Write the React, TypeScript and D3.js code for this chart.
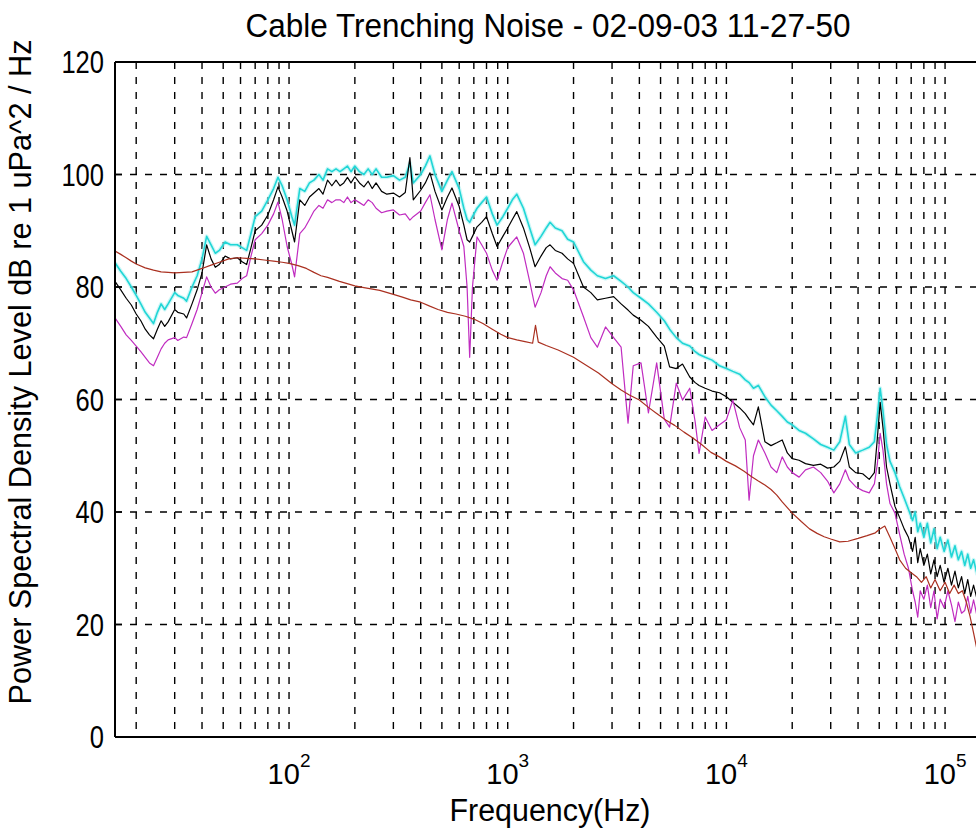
import React from 'react';
import * as d3 from 'd3';

// Shared frequency grid (Hz) for the cyan / black / magenta spectra
const freqs = [
  16, 17, 18, 19, 20, 21, 22, 23, 24, 25, 26, 27, 28, 30, 31, 33, 34, 36, 38, 40,
  42, 44, 46, 48, 51, 54, 58, 61, 64, 67, 70, 75, 80, 85, 89, 93, 98, 103, 106, 112,
  118, 124, 130, 137, 143, 150, 157, 164, 171, 178, 185, 192, 200, 210, 220, 230, 240, 250, 265, 280,
  300, 320, 340, 357, 370, 400, 420, 441, 465, 500, 530, 556, 600, 630, 652, 670, 690, 724, 760, 800,
  850, 894, 950, 1000, 1050, 1100, 1180, 1260, 1334, 1420, 1500, 1562, 1650, 1772, 1880, 2000, 2220, 2400, 2570, 2800,
  3050, 3300, 3550, 3750, 4070, 4400, 4800, 5200, 5500, 5900, 6300, 6800, 7200, 7500, 8000, 8600, 9300, 10000, 10700, 11500,
  12200, 12700, 13300, 14000, 15000, 16000, 17000, 18000, 19000, 20000, 21500, 23000, 25000, 27000, 29000, 31000, 33000, 35000, 36500, 39000,
  42000, 45000, 47500, 49000, 50500, 52000, 54000, 56000, 59000, 62000, 65000, 68000, 71000, 73000, 75000, 77000, 80000, 83000, 86000, 89000,
  92000, 95000, 99000, 103000, 107000, 111000, 115000, 119000, 123000, 127000, 131000, 135000, 140000, 146000,
];

const cyanDb = [
  84.3, 82.8, 81.5, 80.0, 78.5, 77.0, 75.5, 74.5, 73.5, 75.5, 77.0, 76.0, 77.0, 79.0, 78.5, 78.0, 77.5, 80.0, 82.0, 85.0,
  89.0, 87.5, 86.0, 86.5, 88.0, 87.5, 87.5, 87.0, 86.5, 89.5, 92.5, 93.5, 95.5, 97.5, 99.5, 98.0, 95.5, 92.5, 91.0, 97.5,
  97.0, 98.5, 99.0, 100.0, 99.0, 101.0, 100.5, 101.0, 100.5, 101.0, 101.5, 100.5, 101.5, 100.5, 100.0, 101.0, 100.0, 101.0, 99.5, 99.5,
  99.8, 99.0, 99.5, 102.0, 98.5, 100.0, 101.5, 103.3, 100.0, 97.0, 99.0, 100.5, 97.5, 94.0, 92.0, 91.5, 92.5, 94.0, 95.0, 96.0,
  93.0, 91.0, 92.5, 94.0, 95.5, 96.5, 94.0, 90.5, 87.5, 89.0, 90.5, 91.5, 90.5, 90.0, 88.5, 88.0, 84.5, 83.0, 82.0, 81.5,
  82.0, 81.0, 80.0, 79.0, 78.0, 77.0, 75.5, 74.0, 72.5, 71.0, 70.0, 69.5, 68.5, 68.0, 67.5, 67.0, 66.0, 65.5, 65.0, 64.5,
  63.5, 63.0, 62.0, 62.5, 60.5, 59.0, 58.0, 57.0, 56.0, 55.5, 54.5, 54.0, 53.0, 52.0, 51.5, 51.0, 52.5, 57.0, 52.0, 50.5,
  51.0, 51.5, 52.5, 57.0, 62.0, 58.0, 52.0, 49.0, 47.0, 44.5, 42.5, 40.5, 38.5, 40.0, 36.5, 38.0, 35.5, 38.0, 34.5, 37.0,
  33.5, 35.5, 33.0, 35.0, 32.0, 34.0, 31.5, 33.0, 30.5, 32.5, 30.0, 31.5, 29.0, 30.5,
];

const blackDb = [
  81.0, 79.5, 78.0, 76.8, 75.2, 74.0, 72.5, 71.5, 70.8, 72.5, 74.0, 73.0, 73.8, 76.0, 75.5, 75.2, 74.5, 77.0, 79.5, 82.5,
  87.5, 85.0, 83.5, 84.0, 85.5, 85.0, 85.2, 84.5, 84.0, 87.0, 90.0, 91.0, 92.8, 95.5, 97.8, 96.0, 93.5, 90.0, 88.0, 95.5,
  94.5, 96.0, 96.7, 97.5, 96.5, 99.0, 98.0, 99.0, 98.0, 98.5, 99.5, 98.5, 99.6, 98.5, 97.8, 98.8, 97.5, 98.5, 97.0, 96.5,
  96.7, 96.0, 96.8, 103.0, 95.5, 97.2, 98.5, 100.3, 97.0, 93.7, 96.0, 97.6, 94.3, 91.0, 88.4, 88.0, 89.0, 90.7, 91.5, 92.5,
  89.5, 87.2, 89.0, 90.5, 92.0, 93.4, 90.5, 87.0, 83.6, 85.5, 87.0, 87.5, 86.5, 86.0, 85.0, 84.2, 80.0, 79.0, 77.7, 78.0,
  78.3, 77.0, 75.9, 75.0, 74.1, 73.0, 71.1, 69.5, 65.8, 65.5, 66.3, 64.0, 63.0, 62.5, 62.0, 61.5, 61.2, 60.5, 59.5, 58.5,
  57.5, 56.5, 55.5, 58.7, 52.5, 51.8, 52.3, 52.8, 50.5, 49.5, 49.2, 48.6, 48.3, 48.5, 47.8, 48.0, 49.0, 51.6, 48.0, 47.0,
  46.8, 45.8, 47.0, 53.0, 59.5, 55.0, 48.0, 45.0, 41.0, 39.0, 37.0, 35.5, 33.0, 35.5, 31.0, 33.5, 30.5, 32.5, 29.0, 31.5,
  28.5, 30.5, 27.5, 30.0, 27.0, 29.5, 26.5, 28.5, 25.5, 28.0, 25.0, 27.0, 24.5, 26.0,
];

const magentaDb = [
  74.5, 73.0, 71.5, 70.5, 69.5, 68.5, 67.5, 66.5, 66.0, 67.5, 69.0, 70.0, 70.6, 71.0, 70.5, 71.1, 71.0, 73.5, 76.0, 79.0,
  81.8, 80.0, 78.9, 79.5, 80.0, 80.5, 80.7, 81.5, 82.0, 85.5, 88.4, 89.5, 91.0, 93.0, 95.1, 92.0, 87.2, 84.0, 81.8, 89.5,
  90.5, 92.0, 93.5, 94.5, 94.0, 95.5, 95.0, 95.5, 95.5, 95.0, 96.0, 95.0, 95.5, 95.0, 94.5, 95.5, 95.0, 94.0, 93.2, 93.5,
  93.7, 92.8, 93.0, 91.9, 92.5, 93.5, 95.0, 96.4, 92.0, 86.6, 92.0, 94.9, 90.0, 87.2, 80.0, 67.5, 80.0, 88.9, 87.5, 86.0,
  83.0, 81.2, 84.5, 87.0, 88.0, 88.9, 86.0, 81.0, 76.4, 79.0, 82.0, 83.6, 82.5, 81.5, 81.2, 79.5, 74.7, 71.0, 69.3, 72.9,
  71.0, 69.3, 55.8, 66.0, 66.5, 57.6, 66.5, 56.5, 55.1, 62.9, 59.9, 62.0, 56.0, 50.4, 56.9, 54.5, 55.5, 56.4, 59.9, 55.0,
  52.8, 42.1, 50.0, 52.8, 50.5, 48.0, 47.0, 49.8, 48.0, 47.0, 46.2, 47.5, 48.0, 47.0, 45.5, 43.4, 45.0, 47.5, 45.7, 44.5,
  43.8, 43.4, 45.0, 48.5, 54.0, 51.0, 45.0, 41.5, 39.8, 36.0, 32.5, 30.0, 26.0, 24.0, 21.3, 26.0, 24.5, 27.0, 23.0, 26.0,
  21.0, 24.5, 23.0, 26.0, 23.5, 20.5, 24.0, 22.0, 22.5, 25.0, 22.0, 24.4, 21.5, 23.5,
];

// Dark red (ambient) spectrum, own frequency grid
const redFreqs = [
  16, 17, 18, 19, 20, 22, 24, 26, 28, 30, 33, 36, 40, 44, 48, 53, 58, 64, 70, 77,
  85, 93, 100, 110, 120, 130, 140, 150, 170, 200, 220, 260, 300, 330, 360, 400, 440, 480, 530, 580,
  640, 700, 770, 850, 930, 1000, 1100, 1200, 1300, 1340, 1380, 1500, 1700, 2000, 2200, 2600, 3000, 3300, 3600, 4000,
  4400, 4800, 5300, 5800, 6400, 7000, 7700, 8500, 9300, 10000, 11000, 12000, 13000, 14000, 15000, 16000, 17000, 18000, 20000, 22000,
  24000, 26000, 28000, 30000, 33000, 36000, 40000, 44000, 48000, 50000, 53000, 56000, 59000, 62000, 66000, 70000, 74000, 78000, 82000, 86000,
  90000, 95000, 100000, 105000, 110000, 115000, 120000, 125000, 130000, 135000, 140000, 146000,
];
const redDb = [
  86.4, 85.8, 85.2, 84.6, 84.1, 83.4, 83.0, 82.7, 82.6, 82.5, 82.6, 82.7, 83.3, 83.9, 84.4, 85.0, 85.2, 85.1, 85.0, 84.8,
  84.6, 84.4, 84.2, 83.8, 83.3, 82.6, 82.0, 81.7, 81.0, 80.2, 79.9, 79.4, 78.7, 78.2, 77.7, 77.3, 76.6, 76.0, 75.5, 75.2,
  74.8, 74.3, 73.5, 72.5, 71.6, 71.0, 70.6, 70.3, 70.0, 73.2, 70.2, 69.6, 68.8, 67.5, 66.5, 64.7, 62.8, 61.7, 60.8, 59.9,
  58.6, 57.5, 56.3, 55.4, 54.2, 53.2, 52.0, 50.6, 49.8, 49.0, 48.2, 47.3, 46.3, 45.5, 44.8, 44.0, 43.0, 41.8, 39.8, 38.3,
  37.0, 36.2, 35.6, 35.2, 34.7, 34.8, 35.3, 35.8, 36.3, 36.9, 37.5, 35.5, 33.5, 31.5, 30.0, 29.2, 28.5, 27.5, 28.5, 26.5,
  28.0, 26.0, 27.5, 25.5, 27.0, 25.5, 26.0, 24.0, 21.5, 18.5, 15.5, 12.0,
];

const yTicks = [0, 20, 40, 60, 80, 100, 120];
const xMajor = [100, 1000, 10000, 100000];
const xMajorExp = ['2', '3', '4', '5'];

const TITLE = 'Cable Trenching Noise - 02-09-03 11-27-50';
const X_LABEL = 'Frequency(Hz)';
const Y_LABEL = 'Power Spectral Density Level dB re 1 uPa^2 / Hz';

const W = 976;
const H = 829;
const L = 115;
const R = 981;
const T = 62;
const B = 737;
const FONT = "'Liberation Sans', Arial, Helvetica, sans-serif";

export default function App() {
  const x = d3.scaleLog().domain([16, 146000]).range([L, R]);
  const y = d3.scaleLinear().domain([0, 120]).range([B, T]);

  const gridX = x.ticks().filter((t) => t >= 20 && t <= 146000);
  const gridY = yTicks.filter((t) => t > 0 && t < 120);

  const mk = (fs: number[], vs: number[]) =>
    d3
      .line<number>()
      .x((_, i) => x(fs[i]))
      .y((d) => y(d))(vs) || '';

  const dash = '7 8';

  return (
    <svg
      width={W}
      height={H}
      style={{ position: 'absolute', left: 0, top: 0, background: '#fff' }}
      fontFamily={FONT}
    >
      <rect x={0} y={0} width={W} height={H} fill="#fff" />
      <defs>
        <clipPath id="plotClip">
          <rect x={L} y={T} width={R - L} height={B - T} />
        </clipPath>
      </defs>

      {/* grid */}
      <g stroke="#000" strokeWidth={1.4} strokeDasharray={dash} fill="none">
        {gridX.map((t) => (
          <line key={'gx' + t} x1={x(t)} x2={x(t)} y1={T} y2={B} />
        ))}
        {gridY.map((t) => (
          <line key={'gy' + t} x1={L} x2={R} y1={y(t)} y2={y(t)} />
        ))}
      </g>

      {/* data */}
      <g clipPath="url(#plotClip)" fill="none" strokeLinejoin="round">
        <path d={mk(freqs, cyanDb)} stroke="#aef2f2" strokeWidth={4} opacity={0.6} />
        <path d={mk(freqs, cyanDb)} stroke="#20d6d6" strokeWidth={1.6} />
        <path d={mk(freqs, blackDb)} stroke="#000" strokeWidth={1.2} />
        <path d={mk(freqs, magentaDb)} stroke="#c02cc0" strokeWidth={1.2} />
        <path d={mk(redFreqs, redDb)} stroke="#aa3020" strokeWidth={1.2} />
      </g>

      {/* axes box */}
      <g stroke="#000" strokeWidth={2} fill="none">
        <line x1={L} x2={R} y1={T} y2={T} />
        <line x1={L} x2={R} y1={B} y2={B} />
        <line x1={L} x2={L} y1={T} y2={B} />
        <line x1={R} x2={R} y1={T} y2={B} />
      </g>
      {/* y ticks */}
      <g stroke="#000" strokeWidth={1.5}>
        {yTicks.map((t) => (
          <line key={'yt' + t} x1={L} x2={L + 7} y1={y(t)} y2={y(t)} />
        ))}
      </g>

      {/* y tick labels */}
      <g fontSize={31} fill="#000" textAnchor="end">
        {yTicks.map((t) => (
          <text
            key={'yl' + t}
            x={104}
            y={y(t)}
            dy="0.36em"
            textLength={String(t).length * 14.2}
            lengthAdjust="spacingAndGlyphs"
          >
            {t}
          </text>
        ))}
      </g>

      {/* x tick labels */}
      <g fill="#000">
        {xMajor.map((t, i) => (
          <text key={'xl' + t} x={x(t)} y={784} textAnchor="middle" fontSize={29}>
            10
            <tspan fontSize={19} dy={-17}>
              {xMajorExp[i]}
            </tspan>
          </text>
        ))}
      </g>

      {/* title & labels */}
      <text
        x={548}
        y={37}
        textAnchor="middle"
        fontSize={33}
        fill="#000"
        textLength={605}
        lengthAdjust="spacingAndGlyphs"
      >
        {TITLE}
      </text>
      <text
        x={550}
        y={821}
        textAnchor="middle"
        fontSize={31}
        fill="#000"
        textLength={201}
        lengthAdjust="spacingAndGlyphs"
      >
        {X_LABEL}
      </text>
      <text
        transform={`translate(31, 372) rotate(-90)`}
        textAnchor="middle"
        fontSize={32}
        fill="#000"
        textLength={665}
        lengthAdjust="spacingAndGlyphs"
      >
        {Y_LABEL}
      </text>
    </svg>
  );
}
